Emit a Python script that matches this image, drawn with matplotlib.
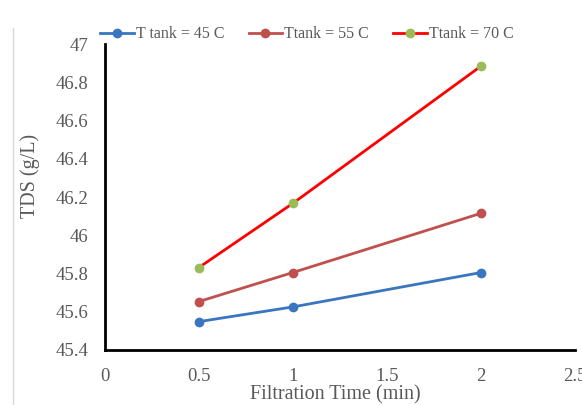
import matplotlib
matplotlib.use("Agg")
import matplotlib.pyplot as plt
from matplotlib.lines import Line2D

# data
time_min = [0.5, 1, 2]
tds_45 = [45.548, 45.625, 45.805]
tds_55 = [45.653, 45.805, 46.115]
tds_70 = [45.831, 46.167, 46.885]

labels = ["T tank = 45 C", "Ttank = 55 C", "Ttank = 70 C"]
grey = "#595959"

plt.rcParams["font.family"] = ["Liberation Serif", "DejaVu Serif"]

fig = plt.figure(figsize=(5.82, 4.05), dpi=100)
ax = fig.add_axes([0.180, 0.136, 0.808, 0.755])

ax.plot(time_min, tds_45, color="#3a75c0", lw=2.0, marker="o", ms=6, label=labels[0])
ax.plot(time_min, tds_55, color="#c0504d", lw=2.0, marker="o", ms=6, label=labels[1])
ax.plot(time_min, tds_70, color="#ff0000", lw=2.0, marker="o", ms=6,
        mfc="#9bbb59", mec="#9bbb59", label=labels[2])

ax.set_xlim(0, 2.5)
ax.set_ylim(45.4, 47)
ax.set_xticks([0, 0.5, 1, 1.5, 2, 2.5])
ax.set_xticklabels(["0", "0.5", "1", "1.5", "2", "2.5"])
ax.set_yticks([45.4, 45.6, 45.8, 46, 46.2, 46.4, 46.6, 46.8, 47])
ax.set_yticklabels(["45.4", "45.6", "45.8", "46", "46.2", "46.4", "46.6", "46.8", "47"])
ax.tick_params(length=0, labelsize=13.5, colors=grey)
ax.tick_params(axis="y", pad=12)
ax.tick_params(axis="x", pad=13)

for s in ["top", "right"]:
    ax.spines[s].set_visible(False)
for s in ["left", "bottom"]:
    ax.spines[s].set_linewidth(2)
    ax.spines[s].set_color("black")

ax.set_xlabel("Filtration Time (min)", fontsize=14.5, color=grey, va="center")
ax.set_ylabel("TDS (g/L)", fontsize=14.5, color=grey, va="center")
ax.xaxis.set_label_coords(0.49, -0.147)
ax.yaxis.set_label_coords(-0.159, 0.57)

ax.legend(loc="lower center", bbox_to_anchor=(0.43, 0.985), ncol=3, frameon=False,
          fontsize=11.5, labelcolor=grey, handlelength=2.1, handletextpad=0.15,
          columnspacing=1.5, borderaxespad=0)

# faint border line at left edge of chart area
fig.add_artist(Line2D([0.022, 0.022], [0, 0.93], color="#d9d9d9", lw=1))

fig.savefig("out.png", dpi=100)
